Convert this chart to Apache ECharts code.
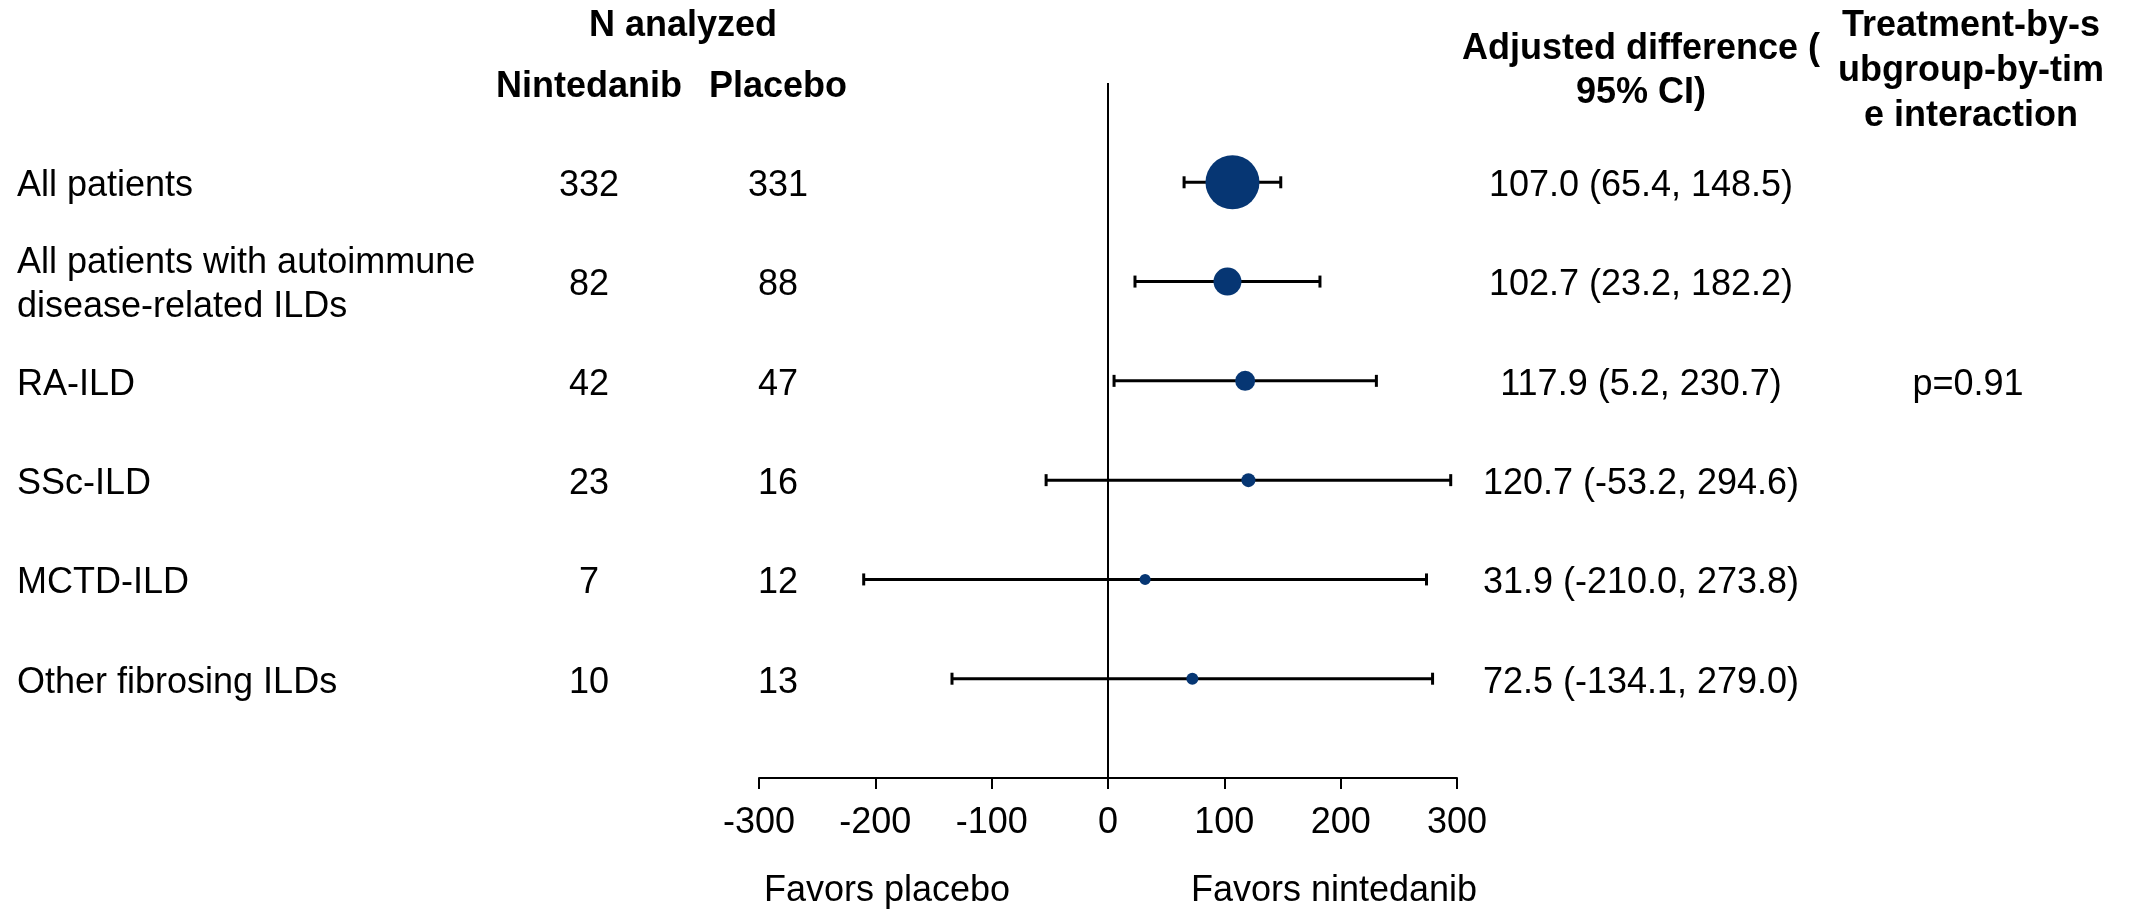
<!DOCTYPE html>
<html>
<head>
<meta charset="utf-8">
<script src="https://cdn.jsdelivr.net/npm/echarts@6/dist/echarts.min.js"></script>
<style>
  html, body { margin: 0; padding: 0; background: #ffffff; }
  #chart { width: 2131px; height: 910px; }
</style>
</head>
<body>
<div id="chart"></div>
<script>
// ---------------- DATA ----------------
const categories = [
  "All patients",
  "All patients with autoimmune\ndisease-related ILDs",
  "RA-ILD",
  "SSc-ILD",
  "MCTD-ILD",
  "Other fibrosing ILDs"
];
const nNintedanib = [332, 82, 42, 23, 7, 10];
const nPlacebo = [331, 88, 47, 16, 12, 13];
const estimate = [107.0, 102.7, 117.9, 120.7, 31.9, 72.5];
const lowerCI = [65.4, 23.2, 5.2, -53.2, -210.0, -134.1];
const upperCI = [148.5, 182.2, 230.7, 294.6, 273.8, 279.0];
const interaction = ["", "", "p=0.91", "", "", ""];
const xTickValues = [-300, -200, -100, 0, 100, 200, 300];

// ---------------- STYLE ----------------
const FONT = '"Liberation Sans", Arial, Helvetica, sans-serif';
const FS = 36;
const markerColor = '#063673';
const symbolSizes = [54, 28, 20, 14, 11, 12];
const colX = { label: 17, nint: 589, plac: 778, ci: 1641, inter: 1968 };

const rows = categories.map((c, i) => i + 1);

const chart = echarts.init(document.getElementById('chart'), null, { renderer: 'canvas' });

const option = {
  backgroundColor: '#ffffff',
  animation: false,
  grid: { left: 759, width: 698, top: 83, height: 695, containLabel: false },
  xAxis: {
    type: 'value',
    min: xTickValues[0],
    max: xTickValues[xTickValues.length - 1],
    interval: 100,
    position: 'bottom',
    axisLine: { show: true, onZero: false, lineStyle: { color: '#000', width: 2 } },
    axisTick: { show: true, inside: false, length: 11, lineStyle: { color: '#000', width: 2 } },
    axisLabel: { show: true, color: '#000', fontSize: FS, fontFamily: FONT, margin: 27 },
    splitLine: { show: false }
  },
  yAxis: {
    type: 'value',
    min: 0,
    max: 7,
    inverse: true,
    show: false
  },
  graphic: [
    { type: 'text', x: 683, y: 26, style: { text: 'N analyzed', align: 'center', verticalAlign: 'middle', fontSize: FS, fontWeight: 'bold', fontFamily: FONT, fill: '#000' } },
    { type: 'text', x: colX.nint, y: 87, style: { text: 'Nintedanib', align: 'center', verticalAlign: 'middle', fontSize: FS, fontWeight: 'bold', fontFamily: FONT, fill: '#000' } },
    { type: 'text', x: colX.plac, y: 87, style: { text: 'Placebo', align: 'center', verticalAlign: 'middle', fontSize: FS, fontWeight: 'bold', fontFamily: FONT, fill: '#000' } },
    { type: 'text', x: colX.ci, y: 71, style: { text: 'Adjusted difference (\n95% CI)', align: 'center', verticalAlign: 'middle', lineHeight: 44, fontSize: FS, fontWeight: 'bold', fontFamily: FONT, fill: '#000' } },
    { type: 'text', x: 1971, y: 71, style: { text: 'Treatment-by-s\nubgroup-by-tim\ne interaction', align: 'center', verticalAlign: 'middle', lineHeight: 45, fontSize: FS, fontWeight: 'bold', fontFamily: FONT, fill: '#000' } },
    { type: 'text', x: 887, y: 891, style: { text: 'Favors placebo', align: 'center', verticalAlign: 'middle', fontSize: FS, fontFamily: FONT, fill: '#000' } },
    { type: 'text', x: 1334, y: 891, style: { text: 'Favors nintedanib', align: 'center', verticalAlign: 'middle', fontSize: FS, fontFamily: FONT, fill: '#000' } }
  ],
  series: [
    {
      // vertical line of no effect
      type: 'line',
      data: [[0, 0], [0, 7]],
      symbol: 'none',
      lineStyle: { color: '#000', width: 2 },
      silent: true,
      z: 1
    },
    {
      // confidence intervals
      type: 'custom',
      data: rows.map((r, i) => [lowerCI[i], upperCI[i], r]),
      encode: { x: [0, 1], y: 2 },
      renderItem: function (params, api) {
        const p1 = api.coord([api.value(0), api.value(2)]);
        const p2 = api.coord([api.value(1), api.value(2)]);
        const capH = 12;
        const st = { stroke: '#000', lineWidth: 3 };
        return {
          type: 'group',
          children: [
            { type: 'line', shape: { x1: p1[0], y1: p1[1], x2: p2[0], y2: p2[1] }, style: st },
            { type: 'line', shape: { x1: p1[0], y1: p1[1] - capH / 2, x2: p1[0], y2: p1[1] + capH / 2 }, style: st },
            { type: 'line', shape: { x1: p2[0], y1: p2[1] - capH / 2, x2: p2[0], y2: p2[1] + capH / 2 }, style: st }
          ]
        };
      },
      z: 2
    },
    {
      // point estimates
      type: 'scatter',
      data: rows.map((r, i) => ({ value: [estimate[i], r], symbolSize: symbolSizes[i] })),
      itemStyle: { color: markerColor, opacity: 1 },
      z: 3
    },
    {
      // table text columns
      type: 'custom',
      data: rows.map((r) => [0, r]),
      renderItem: function (params, api) {
        const i = params.dataIndex;
        const y = api.coord([0, api.value(1)])[1] + 4;
        const base = { fontSize: FS, fontFamily: FONT, fill: '#000', verticalAlign: 'middle' };
        const ciText = estimate[i].toFixed(1) + ' (' + lowerCI[i].toFixed(1) + ', ' + upperCI[i].toFixed(1) + ')';
        return {
          type: 'group',
          children: [
            { type: 'text', x: colX.label, y: y, style: Object.assign({}, base, { text: categories[i], align: 'left', lineHeight: 44 }) },
            { type: 'text', x: colX.nint, y: y, style: Object.assign({}, base, { text: String(nNintedanib[i]), align: 'center' }) },
            { type: 'text', x: colX.plac, y: y, style: Object.assign({}, base, { text: String(nPlacebo[i]), align: 'center' }) },
            { type: 'text', x: colX.ci, y: y, style: Object.assign({}, base, { text: ciText, align: 'center' }) },
            { type: 'text', x: colX.inter, y: y, style: Object.assign({}, base, { text: interaction[i], align: 'center' }) }
          ]
        };
      },
      silent: true,
      z: 4
    }
  ]
};

chart.setOption(option);
</script>
</body>
</html>
